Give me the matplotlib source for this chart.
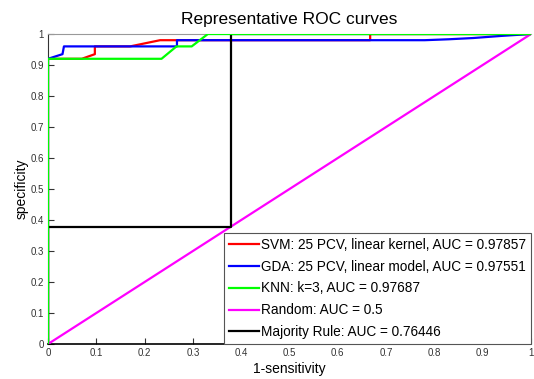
import matplotlib
matplotlib.use("Agg")
import matplotlib.pyplot as plt

plt.rcParams['font.family'] = ['Liberation Sans', 'DejaVu Sans']

# ROC curve points
svm_x = [0, 0, 0.07, 0.097, 0.097, 0.17, 0.232, 0.667, 0.667, 1]
svm_y = [0, 0.92, 0.92, 0.935, 0.96, 0.96, 0.98, 0.98, 1, 1]
gda_x = [0, 0, 0.03, 0.033, 0.267, 0.267, 0.78, 0.83, 0.88, 0.94, 1]
gda_y = [0, 0.92, 0.935, 0.96, 0.96, 0.98, 0.98, 0.983, 0.987, 0.994, 1]
knn_x = [0, 0, 0.235, 0.266, 0.2975, 0.331, 1]
knn_y = [0, 0.92, 0.92, 0.96, 0.96, 1, 1]
rand_x = [0, 1]
rand_y = [0, 1]
maj_x = [0, 0, 0.3793, 0.3793, 1]
maj_y = [0, 0.379, 0.379, 1, 1]

labels = ['SVM: 25 PCV, linear kernel, AUC = 0.97857',
          'GDA: 25 PCV, linear model, AUC = 0.97551',
          'KNN: k=3, AUC = 0.97687',
          'Random: AUC = 0.5',
          'Majority Rule: AUC = 0.76446']
ticks = [0, 0.1, 0.2, 0.3, 0.4, 0.5, 0.6, 0.7, 0.8, 0.9, 1]
tick_labels = ['0', '0.1', '0.2', '0.3', '0.4', '0.5', '0.6', '0.7', '0.8', '0.9', '1']

fig = plt.figure(figsize=(5.34, 3.79), dpi=100)
ax = fig.add_axes([0.0899, 0.0923, 0.9045, 0.818])

lw = 1.6
ax.plot(svm_x, svm_y, color='#ff0000', lw=lw, label=labels[0], zorder=2)
ax.plot(gda_x, gda_y, color='#0000ff', lw=lw, label=labels[1], zorder=3)
ax.plot(rand_x, rand_y, color='#ff00ff', lw=lw, label=labels[3], zorder=4)
ax.plot(maj_x, maj_y, color='black', lw=lw, label=labels[4], zorder=4)
ax.plot(knn_x, knn_y, color='#00ff00', lw=lw, label=labels[2], zorder=5)

ax.set_xlim(0, 1)
ax.set_ylim(0, 1)
ax.set_xticks(ticks)
ax.set_xticklabels(tick_labels)
ax.set_yticks(ticks)
ax.set_yticklabels(tick_labels)
ax.tick_params(direction='in', length=4, labelsize=7, width=0.8,
               colors='#333333', pad=3)
ax.spines['right'].set_visible(False)
ax.spines['top'].set_color('#999999')
ax.spines['left'].set_color('#333333')
ax.spines['bottom'].set_linewidth(1.2)

ax.set_title('Representative ROC curves', fontsize=12.5, pad=7)
ax.set_xlabel('1-sensitivity', fontsize=10, labelpad=3)
ax.set_ylabel('specificity', fontsize=10, labelpad=1)

h, l = ax.get_legend_handles_labels()
order = [l.index(s) for s in labels]
leg = ax.legend([h[i] for i in order], [l[i] for i in order],
                loc='lower right', borderaxespad=0, fontsize=9.8,
                handlelength=2.2, handletextpad=0.15, labelspacing=0.58,
                borderpad=0.35, fancybox=False, framealpha=1)
leg.get_frame().set_edgecolor('#555555')
leg.get_frame().set_linewidth(0.8)

fig.savefig('out.png', dpi=100)
